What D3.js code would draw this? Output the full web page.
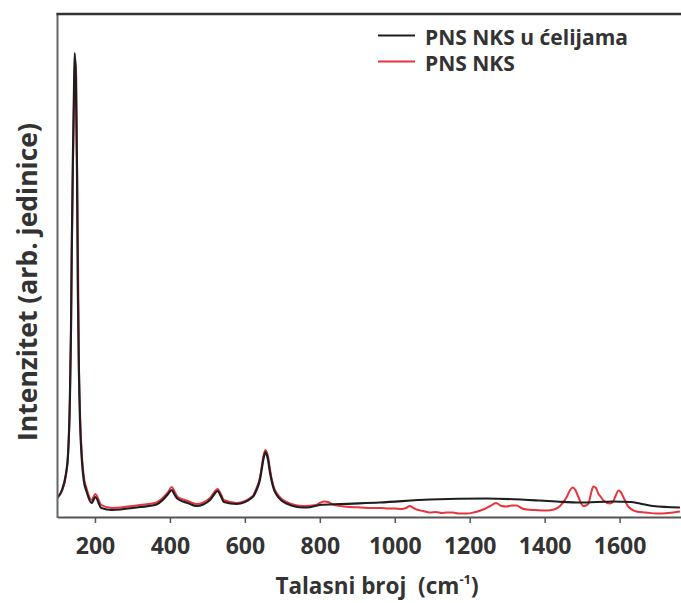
<!DOCTYPE html>
<html><head><meta charset="utf-8">
<script src="https://cdn.jsdelivr.net/npm/d3@7"></script>
<style>
body{margin:0;background:#fff}
text{font-family:"Open Sans",sans-serif;font-weight:700;fill:#333}
</style>
</head><body>
<svg id="c" width="681" height="603"></svg>
<script>
// ---- data ----
const tickValues = [200,400,600,800,1000,1200,1400,1600];
const seriesNames = ["PNS NKS u ćelijama","PNS NKS"];

const wnBlack = [100,112,122,128,133,136,138,141,144,146,149,152,154,157,160,165,170,178,191,201,217,245,320,360,386,395,405,413,421,448,471,507,515,527,537,544,578,621,630,640,645,649,655,658,662,666,671,678,685,711,756,765,800,854,960,1094,1245,1387,1432,1494,1582,1630,1654,1689,1761];
const intBlack = [40,54,84,124,234,374,534,714,854,928,874,694,474,294,194,114,74,50,28,40,18,14,20,24,38,46,54,44,36,28,22,34,42,52,40,30,26,40,52,74,96,114,130,126,114,94,74,54,44,27,19,19,24,26,29,35,37,33,31,29,31,30,27,22,19];

const wnRed = [100,112,122,128,133,136,138,141,144,147.6,150,152,155,157,160,165,170,178,191,201,217,245,320,360,386,395,405,413,421,448,471,507,515,527,537,544,578,621,630,640,645,649,655,658,662,666,671,678,685,711,756,790,800,812,822,835,855,880,909,940,965,981,1000,1018,1030,1040,1050,1058,1075,1094,1110,1125,1139,1155,1170,1192,1210,1236,1255,1270,1285,1298,1312,1325,1340,1352,1375,1405,1425,1441,1459,1468,1475,1482,1490,1503,1510,1517,1524,1530,1537,1543,1550,1557,1574,1582,1588,1597,1603,1610,1623,1645,1670,1699,1730,1761];
const intRed = [38,52,82,122,230,368,520,690,830,914,880,720,500,320,210,124,82,56,34,46,24,18,24,28,42,50,60,50,40,32,26,38,46,56,44,34,28,42,56,78,100,120,134,130,120,100,78,58,48,30,22,24,28,31,30,25,22,20,19,18,18,17,17,16,18,22,18,15,12,9,10,8,9,9,7,7,9,15,22,28,22,21,23,23,17,15,14,13,15,22,40,54,59,54,40,22,23,27,48,61,58,47,40,33,27,30,40,53,50,40,21,11,9,7,8,11];

// ---- chart ----
const svg = d3.select("#c");
const x = d3.scaleLinear().domain([100,1770]).range([57.5,683.3]);
const y = d3.scaleLinear().domain([0,1006]).range([517,14]);

svg.append("defs").append("clipPath").attr("id","clip")
  .append("rect").attr("x",58).attr("y",14).attr("width",640).attr("height",503);

const line = d3.line().x(d=>x(d[0])).y(d=>y(d[1])).curve(d3.curveMonotoneX);
const redData = wnRed.map((w,i)=>[w,intRed[i]]);
const blackData = wnBlack.map((w,i)=>[w,intBlack[i]]);

const g = svg.append("g").attr("clip-path","url(#clip)");
g.append("path").datum(redData).attr("d",line)
  .attr("fill","none").attr("stroke","#e8343c").attr("stroke-width",2).attr("stroke-linejoin","round");
g.append("path").datum(blackData).attr("d",line)
  .attr("fill","none").attr("stroke","#1e1e1e").attr("stroke-width",2.2).attr("stroke-linejoin","round");

// axes / frame
const ax = svg.append("g").attr("transform","translate(0,517)")
  .call(d3.axisBottom(x).tickValues(tickValues).tickSize(6).tickSizeOuter(0).tickPadding(15).tickFormat(d3.format("d")));
ax.select(".domain").attr("stroke","#555").attr("stroke-width",2);
ax.selectAll(".tick line").attr("stroke","#555").attr("stroke-width",1.5);
ax.selectAll(".tick text").attr("font-size",23).attr("fill","#333")
  .style("font-family","'Open Sans',sans-serif").style("font-weight","700");

svg.append("line").attr("x1",57.5).attr("x2",57.5).attr("y1",13).attr("y2",518)
  .attr("stroke","#666").attr("stroke-width",2);
svg.append("line").attr("x1",56.5).attr("x2",681).attr("y1",14).attr("y2",14)
  .attr("stroke","#333").attr("stroke-width",2.5);

// axis titles
const xt = svg.append("text").attr("x",377).attr("y",594).attr("text-anchor","middle")
  .attr("font-size",22.5).attr("xml:space","preserve").style("white-space","pre");
xt.append("tspan").text("Talasni broj\u00a0 (cm");
xt.append("tspan").attr("font-size",13).attr("dy",-10).text("-1");
xt.append("tspan").attr("dy",10).text(")");

svg.append("text").attr("transform","translate(37,282) rotate(-90)")
  .attr("text-anchor","middle").attr("font-size",26.5).text("Intenzitet (arb. jedinice)");

// legend
const colors = ["#1e1e1e","#e8343c"];
const leg = svg.append("g");
seriesNames.forEach((n,i)=>{
  const yy = 35.5 + i*26;
  leg.append("line").attr("x1",378).attr("x2",415).attr("y1",yy).attr("y2",yy)
    .attr("stroke",colors[i]).attr("stroke-width",2.2);
  leg.append("text").attr("x",425).attr("y",yy+9.5).attr("font-size",21).text(n);
});
</script>
</body></html>
